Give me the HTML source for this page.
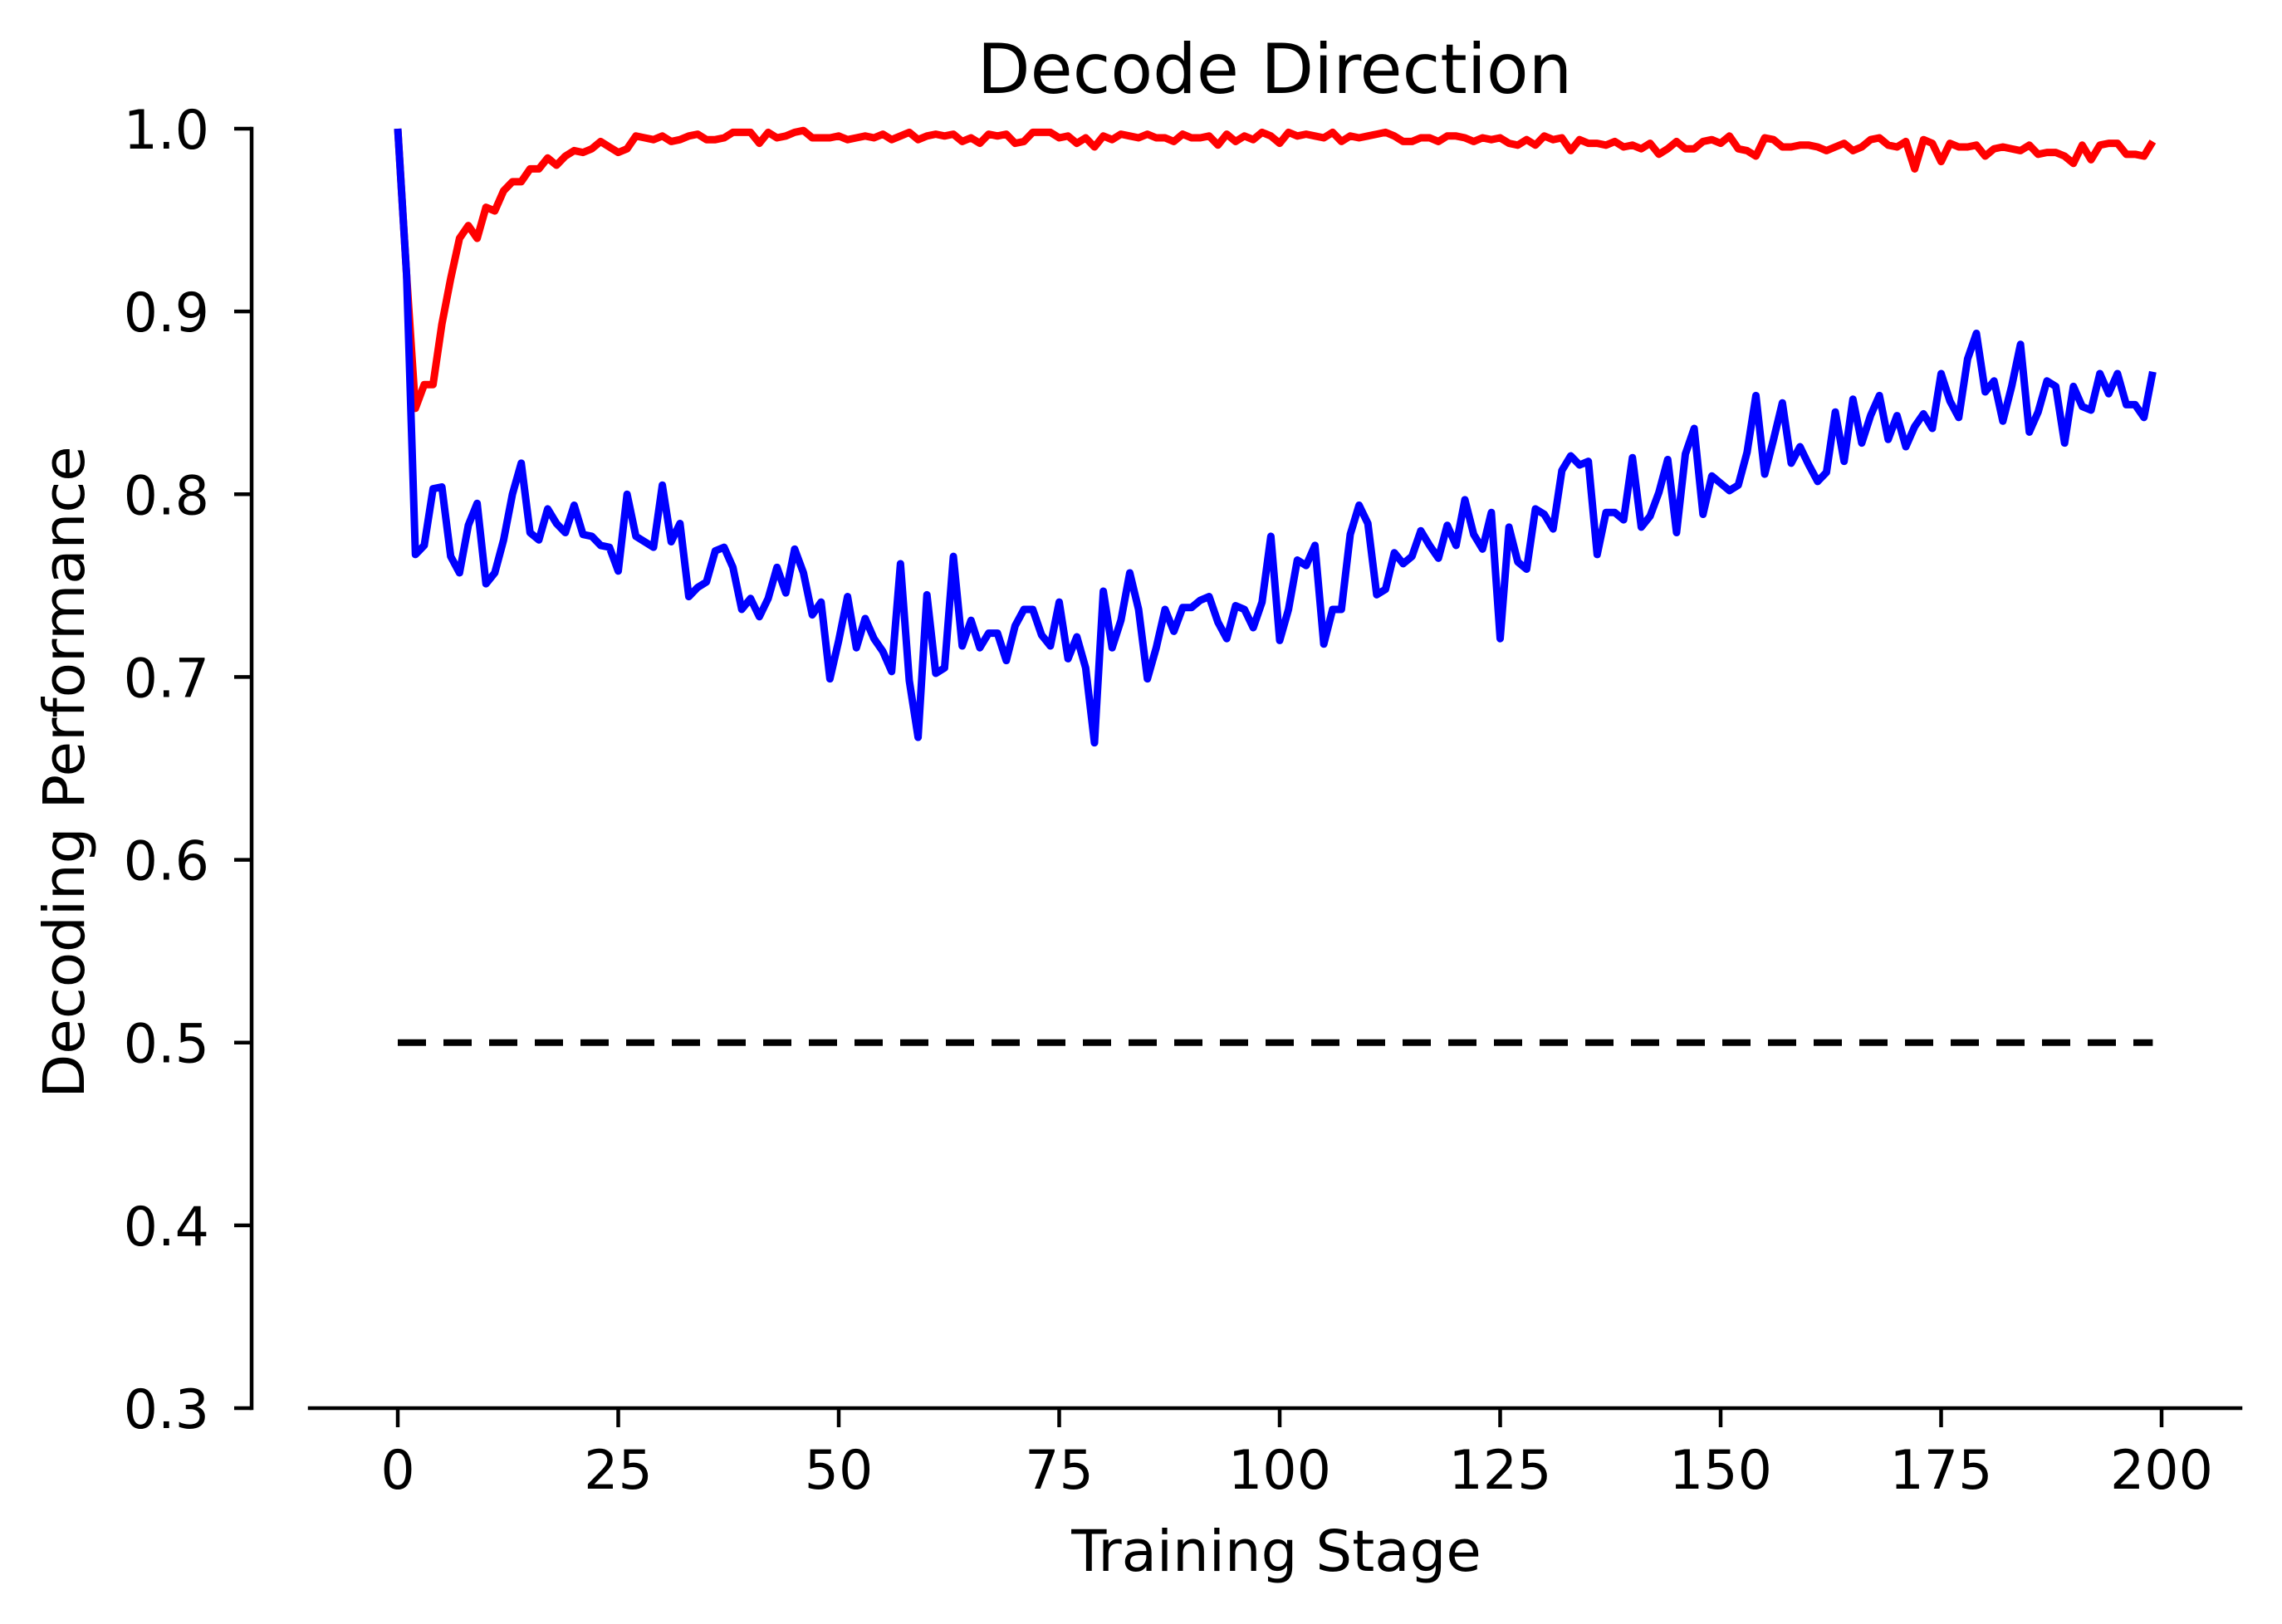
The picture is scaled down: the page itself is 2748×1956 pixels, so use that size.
<!DOCTYPE html>
<html><head><meta charset="utf-8"><title>Decode Direction</title>
<style>html,body{margin:0;padding:0;background:#fff;}svg{display:block;}text{font-family:"DejaVu Sans","Liberation Sans",sans-serif;fill:#000;}</style>
</head><body>
<svg id="chart" width="2748" height="1956" viewBox="0 0 2748 1956" xmlns="http://www.w3.org/2000/svg">
<rect width="2748" height="1956" fill="#fff"/>
<g id="axes"></g>
<g id="series"></g>
<text x="1535" y="112" font-size="83" text-anchor="middle">Decode Direction</text>
<text x="1537" y="1892" font-size="69" text-anchor="middle">Training Stage</text>
<text transform="translate(101,930) rotate(-90)" font-size="69" text-anchor="middle">Decoding Performance</text>
</svg>
<script>
const xTicks = [0, 25, 50, 75, 100, 125, 150, 175, 200];
const yTicks = [0.3, 0.4, 0.5, 0.6, 0.7, 0.8, 0.9, 1.0];
const yTickLabels = ["0.3","0.4","0.5","0.6","0.7","0.8","0.9","1.0"];
const chanceLevel = [0.5, 0.5];
const chanceStages = [0, 199];
const blueValues = [1.000,0.920,0.767,0.772,0.803,0.804,0.766,0.757,0.783,0.795,
0.751,0.757,0.775,0.800,0.817,0.779,0.775,0.792,0.784,0.779,
0.794,0.778,0.777,0.772,0.771,0.758,0.800,0.777,0.774,0.771,
0.805,0.774,0.784,0.744,0.749,0.752,0.769,0.771,0.760,0.737,
0.743,0.733,0.743,0.760,0.746,0.770,0.757,0.734,0.741,0.699,
0.720,0.744,0.716,0.732,0.721,0.714,0.703,0.762,0.698,0.667,
0.745,0.702,0.705,0.766,0.717,0.731,0.716,0.724,0.724,0.709,
0.728,0.737,0.737,0.723,0.717,0.741,0.710,0.722,0.705,0.664,
0.747,0.716,0.731,0.757,0.737,0.699,0.716,0.737,0.725,0.738,
0.738,0.742,0.744,0.730,0.721,0.739,0.737,0.727,0.741,0.777,
0.720,0.737,0.764,0.761,0.772,0.718,0.737,0.737,0.778,0.794,
0.784,0.745,0.748,0.768,0.762,0.766,0.780,0.772,0.765,0.783,
0.772,0.797,0.778,0.770,0.790,0.721,0.782,0.763,0.759,0.792,
0.789,0.781,0.813,0.821,0.816,0.818,0.767,0.790,0.790,0.786,
0.820,0.782,0.788,0.801,0.819,0.779,0.822,0.836,0.789,0.810,
0.806,0.802,0.805,0.823,0.854,0.811,0.830,0.850,0.817,0.826,
0.816,0.807,0.812,0.845,0.818,0.852,0.828,0.843,0.854,0.830,
0.843,0.826,0.837,0.844,0.836,0.866,0.851,0.842,0.874,0.888,
0.856,0.862,0.840,0.859,0.882,0.834,0.845,0.862,0.859,0.828,
0.859,0.848,0.846,0.866,0.855,0.866,0.849,0.849,0.842,0.867];
const redValues = [1.000,0.920,0.847,0.860,0.860,0.893,0.918,0.940,0.947,0.940,
0.957,0.955,0.966,0.971,0.971,0.978,0.978,0.984,0.980,0.985,
0.988,0.987,0.989,0.993,0.990,0.987,0.989,0.996,0.995,0.994,
0.996,0.993,0.994,0.996,0.997,0.994,0.994,0.995,0.998,0.998,
0.998,0.992,0.998,0.995,0.996,0.998,0.999,0.995,0.995,0.995,
0.996,0.994,0.995,0.996,0.995,0.997,0.994,0.996,0.998,0.994,
0.996,0.997,0.996,0.997,0.993,0.995,0.992,0.997,0.996,0.997,
0.992,0.993,0.998,0.998,0.998,0.995,0.996,0.992,0.995,0.990,
0.996,0.994,0.997,0.996,0.995,0.997,0.995,0.995,0.993,0.997,
0.995,0.995,0.996,0.991,0.997,0.993,0.996,0.994,0.998,0.996,
0.992,0.998,0.996,0.997,0.996,0.995,0.998,0.993,0.996,0.995,
0.996,0.997,0.998,0.996,0.993,0.993,0.995,0.995,0.993,0.996,
0.996,0.995,0.993,0.995,0.994,0.995,0.992,0.991,0.994,0.991,
0.996,0.994,0.995,0.988,0.994,0.992,0.992,0.991,0.993,0.990,
0.991,0.989,0.992,0.986,0.989,0.993,0.989,0.989,0.993,0.994,
0.992,0.996,0.989,0.988,0.985,0.995,0.994,0.990,0.990,0.991,
0.991,0.990,0.988,0.990,0.992,0.988,0.990,0.994,0.995,0.991,
0.990,0.993,0.978,0.994,0.992,0.982,0.992,0.990,0.990,0.991,
0.985,0.989,0.990,0.989,0.988,0.991,0.986,0.987,0.987,0.985,
0.981,0.991,0.983,0.991,0.992,0.992,0.986,0.986,0.985,0.993];

const NS = "http://www.w3.org/2000/svg";
const X0 = 479, X1 = 2603, Y03 = 1696, Y10 = 155;
function xScale(v){ return X0 + (v/200)*(X1-X0); }
function yScale(v){ return Y03 - (v-0.3)/0.7*(Y03-Y10); }
function mk(tag, attrs, parent){
  const el = document.createElementNS(NS, tag);
  for (const k in attrs) el.setAttribute(k, attrs[k]);
  parent.appendChild(el);
  return el;
}
const axes = document.getElementById('axes');
const series = document.getElementById('series');

const ySpine = mk('line', {x1:303, y1:Y10, x2:303, y2:Y03, stroke:'#000','stroke-width':4.5, 'stroke-linecap':'square'}, axes);


const xSpine = mk('line', {x1:373, y1:1696, x2:2698, y2:1696, stroke:'#000','stroke-width':4.5, 'stroke-linecap':'square'}, axes);



yTicks.forEach((v,i)=>{
  const y = yScale(v);
  const t = mk('line', {x1:282, y1:y, x2:303, y2:y, stroke:'#000','stroke-width':4.5}, axes);
  
  
  const l = mk('text', {x:252, y:y+24, 'font-size':65, 'text-anchor':'end'}, axes);
  l.textContent = yTickLabels[i];
  
  
});
xTicks.forEach((v)=>{
  const x = xScale(v);
  const t = mk('line', {x1:x, y1:1696, x2:x, y2:1719, stroke:'#000','stroke-width':4.5}, axes);
  
  
  const l = mk('text', {x:x, y:1793, 'font-size':65, 'text-anchor':'middle'}, axes);
  l.textContent = String(v);
  
  
});

const chance = mk('line', {x1:xScale(chanceStages[0]), y1:yScale(chanceLevel[0]), x2:xScale(chanceStages[1]), y2:yScale(chanceLevel[1]), stroke:'#000','stroke-width':8,'stroke-dasharray':'34 21'}, series);



function pathFor(vals){ return vals.map((v,i)=>(i?'L':'M')+xScale(i).toFixed(2)+' '+yScale(v).toFixed(2)).join(' '); }
const red = mk('path', {d:pathFor(redValues), fill:'none', stroke:'#ff0000','stroke-width':9,'stroke-linejoin':'round'}, series);


const blue = mk('path', {d:pathFor(blueValues), fill:'none', stroke:'#0000ff','stroke-width':9,'stroke-linejoin':'round'}, series);


</script>
</body></html>
